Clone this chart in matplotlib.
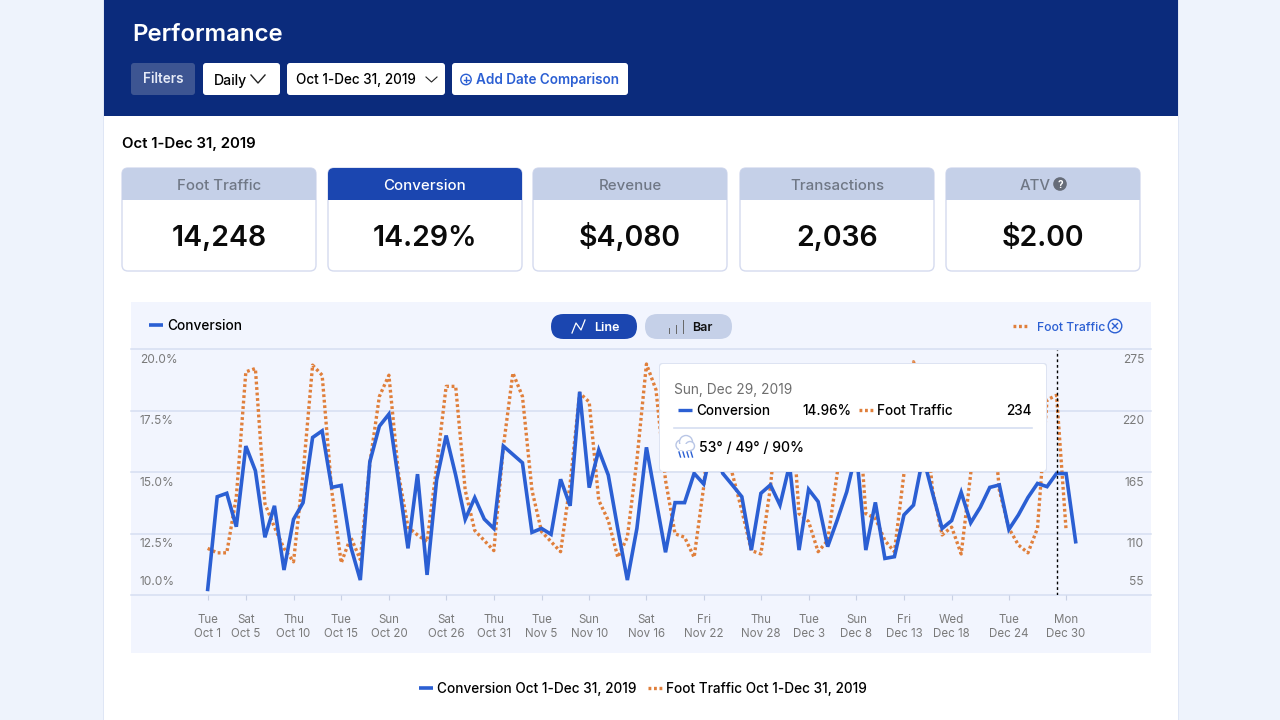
import matplotlib
matplotlib.use('Agg')
import matplotlib.pyplot as plt
import matplotlib.dates as mdates
from matplotlib.patches import FancyBboxPatch, Rectangle, Circle
import pandas as pd
import numpy as np

plt.rcParams['font.family'] = ['Inter', 'DejaVu Sans']

# ── Data ──────────────────────────────────────────────
dates = pd.date_range('2019-10-01', '2019-12-31')
conversion = [10.24, 14.01, 14.15, 12.79, 16.07, 15.07, 12.36, 13.64, 11.03, 13.09,
              13.77, 16.42, 16.69, 14.39, 14.47, 11.98, 10.62, 15.43, 16.88, 17.37,
              14.69, 11.91, 14.93, 10.83, 14.69, 16.50, 14.89, 13.09, 13.97, 13.10,
              12.72, 16.07, 15.73, 15.39, 12.56, 12.72, 12.48, 14.72, 13.64, 18.28,
              14.38, 15.91, 14.89, 12.70, 10.62, 12.72, 16.02, 13.88, 11.75, 13.77,
              13.77, 14.96, 14.53, 16.30, 14.96, 14.49, 14.01, 11.84, 14.15, 14.49,
              13.67, 15.30, 11.84, 14.31, 13.81, 11.98, 13.06, 14.21, 15.85, 11.84,
              13.78, 11.50, 11.57, 13.27, 13.67, 15.64, 14.15, 12.72, 13.04, 14.19,
              12.95, 13.58, 14.39, 14.49, 12.68, 13.27, 13.98, 14.55, 14.42, 14.96,
              14.95, 12.18]
foot_traffic = [97, 93, 93, 143, 255, 258, 137, 116, 97, 85,
                164, 261, 252, 149, 84, 107, 87, 173, 233, 252,
                164, 116, 109, 103, 170, 242, 242, 149, 113, 104,
                95, 188, 254, 233, 149, 112, 103, 94, 155, 236,
                228, 140, 122, 89, 107, 176, 262, 239, 158, 110,
                107, 89, 152, 240, 245, 164, 131, 95, 92, 152,
                240, 250, 128, 121, 94, 104, 164, 250, 250, 128,
                124, 104, 94, 164, 264, 235, 149, 109, 116, 92,
                164, 250, 245, 149, 115, 100, 93, 115, 230, 234,
                113, np.nan]
tick_dates = ['2019-10-01', '2019-10-05', '2019-10-10', '2019-10-15', '2019-10-20',
              '2019-10-26', '2019-10-31', '2019-11-05', '2019-11-10', '2019-11-16',
              '2019-11-22', '2019-11-28', '2019-12-03', '2019-12-08', '2019-12-13',
              '2019-12-18', '2019-12-24', '2019-12-30']
tick_labels = ['Tue\nOct 1', 'Sat\nOct 5', 'Thu\nOct 10', 'Tue\nOct 15', 'Sun\nOct 20',
               'Sat\nOct 26', 'Thu\nOct 31', 'Tue\nNov 5', 'Sun\nNov 10', 'Sat\nNov 16',
               'Fri\nNov 22', 'Thu\nNov 28', 'Tue\nDec 3', 'Sun\nDec 8', 'Fri\nDec 13',
               'Wed\nDec 18', 'Tue\nDec 24', 'Mon\nDec 30']
left_ticks = [20.0, 17.5, 15.0, 12.5, 10.0]
right_ticks = [275, 220, 165, 110, 55]
kpi_names = ['Foot Traffic', 'Conversion', 'Revenue', 'Transactions', 'ATV']
kpi_values = ['14,248', '14.29%', '$4,080', '2,036', '$2.00']
hover_date = '2019-12-29'

NAVY = '#0B2B7C'
ROYAL = '#1B46B0'
BLUE = '#2B5FD3'
ORANGE = '#E07F3B'
PALE = '#C5D0E8'
PANEL = '#F2F5FE'
GRID = '#D6DEF1'
GREY = '#7A7A7A'
DOTS = (0, (0.85, 0.8))

fig = plt.figure(figsize=(12.8, 7.2), dpi=100, facecolor='#EEF3FC')


def pixel_axes(z):
    a = fig.add_axes([0, 0, 1, 1], zorder=z)
    a.set_xlim(0, 1280)
    a.set_ylim(720, 0)
    a.axis('off')
    return a


def box(a, x0, y0, x1, y1, color, r=3, ec='none', lw=0, z=1):
    a.add_patch(FancyBboxPatch((x0 + r, y0 + r), x1 - x0 - 2 * r, y1 - y0 - 2 * r,
                               boxstyle=f'round,pad={r},rounding_size={r}',
                               fc=color, ec=ec, lw=lw, zorder=z))


# y is the middle of the capitals, so text sits on a fixed baseline
def txt(a, x, y, s, px, color='black', weight='normal', ha='left', z=5):
    a.text(x, y + px * 0.36, s, fontsize=px * 0.72, color=color, fontweight=weight,
           ha=ha, va='baseline', zorder=z)


# ── Page, header, KPI cards ───────────────────────────
bg = pixel_axes(0)
bg.add_patch(Rectangle((103, 0), 1076, 720, fc='#DFE6F5', ec='none'))
bg.add_patch(Rectangle((104, 0), 1074, 720, fc='white', ec='none'))
bg.add_patch(Rectangle((104, 0), 1074, 116, fc=NAVY, ec='none'))
txt(bg, 132, 32.5, 'Performance', 24, 'white', 'semibold')

box(bg, 131, 63, 195, 95, '#3D5592')
txt(bg, 163, 78.5, 'Filters', 13.5, '#E6EBF7', 'semibold', ha='center')
box(bg, 203, 63, 280, 95, 'white')
txt(bg, 214, 79.5, 'Daily', 14, 'black', 'medium')
bg.plot([251, 258, 265], [75, 83, 75], color='#222222', lw=1)
box(bg, 287, 63, 445, 95, 'white')
txt(bg, 296, 79.5, 'Oct 1-Dec 31, 2019', 13.5, 'black', 'medium')
bg.plot([426, 431.5, 437], [77, 82, 77], color='#222222', lw=0.8)
box(bg, 452, 63, 628, 95, 'white')
bg.add_patch(Circle((466, 79.5), 5.2, fc='none', ec=BLUE, lw=1))
bg.plot([463.5, 468.5], [79.5, 79.5], color=BLUE, lw=1)
bg.plot([466, 466], [77, 82], color=BLUE, lw=1)
txt(bg, 476, 79.5, 'Add Date Comparison', 13.5, BLUE, 'semibold')

txt(bg, 122, 143, 'Oct 1-Dec 31, 2019', 15, 'black', 'semibold')

card_lefts = [122, 328, 533, 740, 946]
for left, name, value in zip(card_lefts, kpi_names, kpi_values):
    right = left + 194
    active = name == 'Conversion'
    head = ROYAL if active else PALE
    box(bg, left, 168, right, 271, 'white', r=6, ec='#D5DBEF', lw=1)
    box(bg, left, 168, right, 190, head, r=6, z=2)
    bg.add_patch(Rectangle((left, 180), right - left, 20, fc=head, ec='none', zorder=2))
    cx = (left + right) / 2 - (name == 'ATV') * 8
    txt(bg, cx, 185, name, 15, 'white' if active else '#6F7785', 'medium', ha='center')
    txt(bg, (left + right) / 2, 236, value, 28.5, '#0A0A0A', 'semibold', ha='center')
bg.add_patch(Circle((1060, 184), 6.8, fc='#666C78', ec='none', zorder=3))
txt(bg, 1060, 184, '?', 10, 'white', 'bold', ha='center')

# chart panel and its top strip
bg.add_patch(Rectangle((131, 302), 1020, 351, fc=PANEL, ec='none'))
bg.plot([149, 163], [324.5, 324.5], color=BLUE, lw=2.6, solid_capstyle='butt')
txt(bg, 167, 325, 'Conversion', 13.7, 'black', 'medium')
box(bg, 551, 314, 637, 339, ROYAL, r=12.5)
bg.plot([572, 576, 581, 585], [333, 323, 330, 320], color='white', lw=0.9)
txt(bg, 606.5, 326.5, 'Line', 12.5, 'white', 'semibold', ha='center')
box(bg, 645, 314, 732, 339, PALE, r=12.5)
bg.plot([669, 669], [328, 333], color='#666666', lw=0.7)
bg.plot([676, 676], [325, 333], color='#666666', lw=0.7)
bg.plot([683, 683], [320, 333], color='#666666', lw=0.7)
txt(bg, 702.5, 326.5, 'Bar', 12.5, '#111111', 'semibold', ha='center')
bg.plot([1013, 1028], [326, 326], color=ORANGE, lw=2.4, linestyle=DOTS)
txt(bg, 1037, 326.5, 'Foot Traffic', 12.2, BLUE, 'medium')
bg.add_patch(Circle((1115, 326), 6.8, fc='none', ec=BLUE, lw=1))
bg.plot([1112.5, 1117.5], [323.5, 328.5], color=BLUE, lw=1)
bg.plot([1112.5, 1117.5], [328.5, 323.5], color=BLUE, lw=1)

# bottom legend
bg.plot([419, 433], [688, 688], color=BLUE, lw=2.6, solid_capstyle='butt')
txt(bg, 437, 688.5, 'Conversion Oct 1-Dec 31, 2019', 13.6, 'black', 'medium')
bg.plot([648, 662], [688, 688], color=ORANGE, lw=2.4, linestyle=DOTS)
txt(bg, 666, 688.5, 'Foot Traffic Oct 1-Dec 31, 2019', 13.6, 'black', 'medium')

# ── Chart ─────────────────────────────────────────────
ax_l, ax_r, ax_t, ax_b = 131, 1151, 349.5, 595.3
ax = fig.add_axes([ax_l / 1280, 1 - ax_b / 720, (ax_r - ax_l) / 1280, (ax_b - ax_t) / 720], zorder=2)
ax2 = ax.twinx()
ax2.set_zorder(2)
ax.set_zorder(3)
ax.patch.set_visible(False)
ax2.patch.set_visible(False)

ax2.plot(dates, foot_traffic, color=ORANGE, lw=2.4, linestyle=DOTS)
ax.plot(dates, conversion, color=BLUE, lw=2.6, solid_joinstyle='miter')
ax.axvline(pd.Timestamp(hover_date), color='black', lw=1, linestyle=(0, (2, 2)))

day0 = mdates.date2num(dates[0])
ax.set_xlim(day0 - 8.04, day0 + 98.9)
ax.set_ylim(10, 20)
ax2.set_ylim(55, 275)
ax.set_xticks(pd.to_datetime(tick_dates))
ax.set_xticklabels(tick_labels, fontsize=8.3, color=GREY, linespacing=1.25)
ax.tick_params(axis='x', length=3.5, width=0.8, color='#C8D0E4', pad=10)
ax.set_yticks([])
ax2.set_yticks(right_ticks)
ax2.set_yticklabels([])
ax2.tick_params(axis='y', length=0)
ax2.grid(axis='y', color=GRID, lw=1.1, clip_on=False)
for a in (ax, ax2):
    for side in ('top', 'left', 'right', 'bottom'):
        a.spines[side].set_visible(False)

# value labels sit inside the plot, under their gridline (the lowest one above it)
for val in left_ticks:
    off = 13.5 if val == left_ticks[-1] else -10.5
    ax.annotate(f'{val:.1f}%', xy=(0, val), xycoords=ax.get_yaxis_transform(),
                xytext=(9, off), textcoords='offset pixels', fontsize=8.6,
                color=GREY, ha='left', va='center')
for val in right_ticks:
    off = 13.5 if val == right_ticks[-1] else -10.5
    ax2.annotate(str(val), xy=(1, val), xycoords=ax2.get_yaxis_transform(),
                 xytext=(-7, off), textcoords='offset pixels', fontsize=8.6,
                 color=GREY, ha='right', va='center')

# ── Tooltip ───────────────────────────────────────────
top = pixel_axes(5)
box(top, 659, 363, 1047, 472, '#DDE3F2', r=3, z=1)
box(top, 660, 364, 1046, 471, 'white', r=3, z=2)
txt(top, 674, 389, 'Sun, Dec 29, 2019', 13.7, '#6E6E6E')
top.plot([678, 692], [410, 410], color=BLUE, lw=2.4, solid_capstyle='butt', zorder=3)
txt(top, 696, 410, 'Conversion', 13.5, 'black', 'medium')
txt(top, 851, 410, '14.96%', 13.5, 'black', 'medium', ha='right')
top.plot([859, 873], [410, 410], color=ORANGE, lw=2.4, linestyle=DOTS, zorder=3)
txt(top, 877, 410, 'Foot Traffic', 13.5, 'black', 'medium')
txt(top, 1032, 410, '234', 13.5, 'black', 'medium', ha='right')
top.plot([674, 1032], [428, 428], color=GRID, lw=1.2, zorder=3)
for cx, cy, r in [(681, 445, 5), (686, 442, 6.5), (690, 446, 4.5)]:
    top.add_patch(Circle((cx, cy), r, fc='white', ec='#B9C6E6', lw=1, zorder=3))
top.add_patch(Rectangle((679, 444), 11, 6, fc='white', ec='none', zorder=4))
for rx in (679, 683, 687, 691):
    top.plot([rx, rx + 1.5], [452, 457], color=BLUE, lw=1, zorder=4)
txt(top, 699, 446.5, '53° / 49° / 90%', 14, 'black', 'medium')

plt.savefig('out.png', dpi=100, facecolor=fig.get_facecolor())
plt.close()
